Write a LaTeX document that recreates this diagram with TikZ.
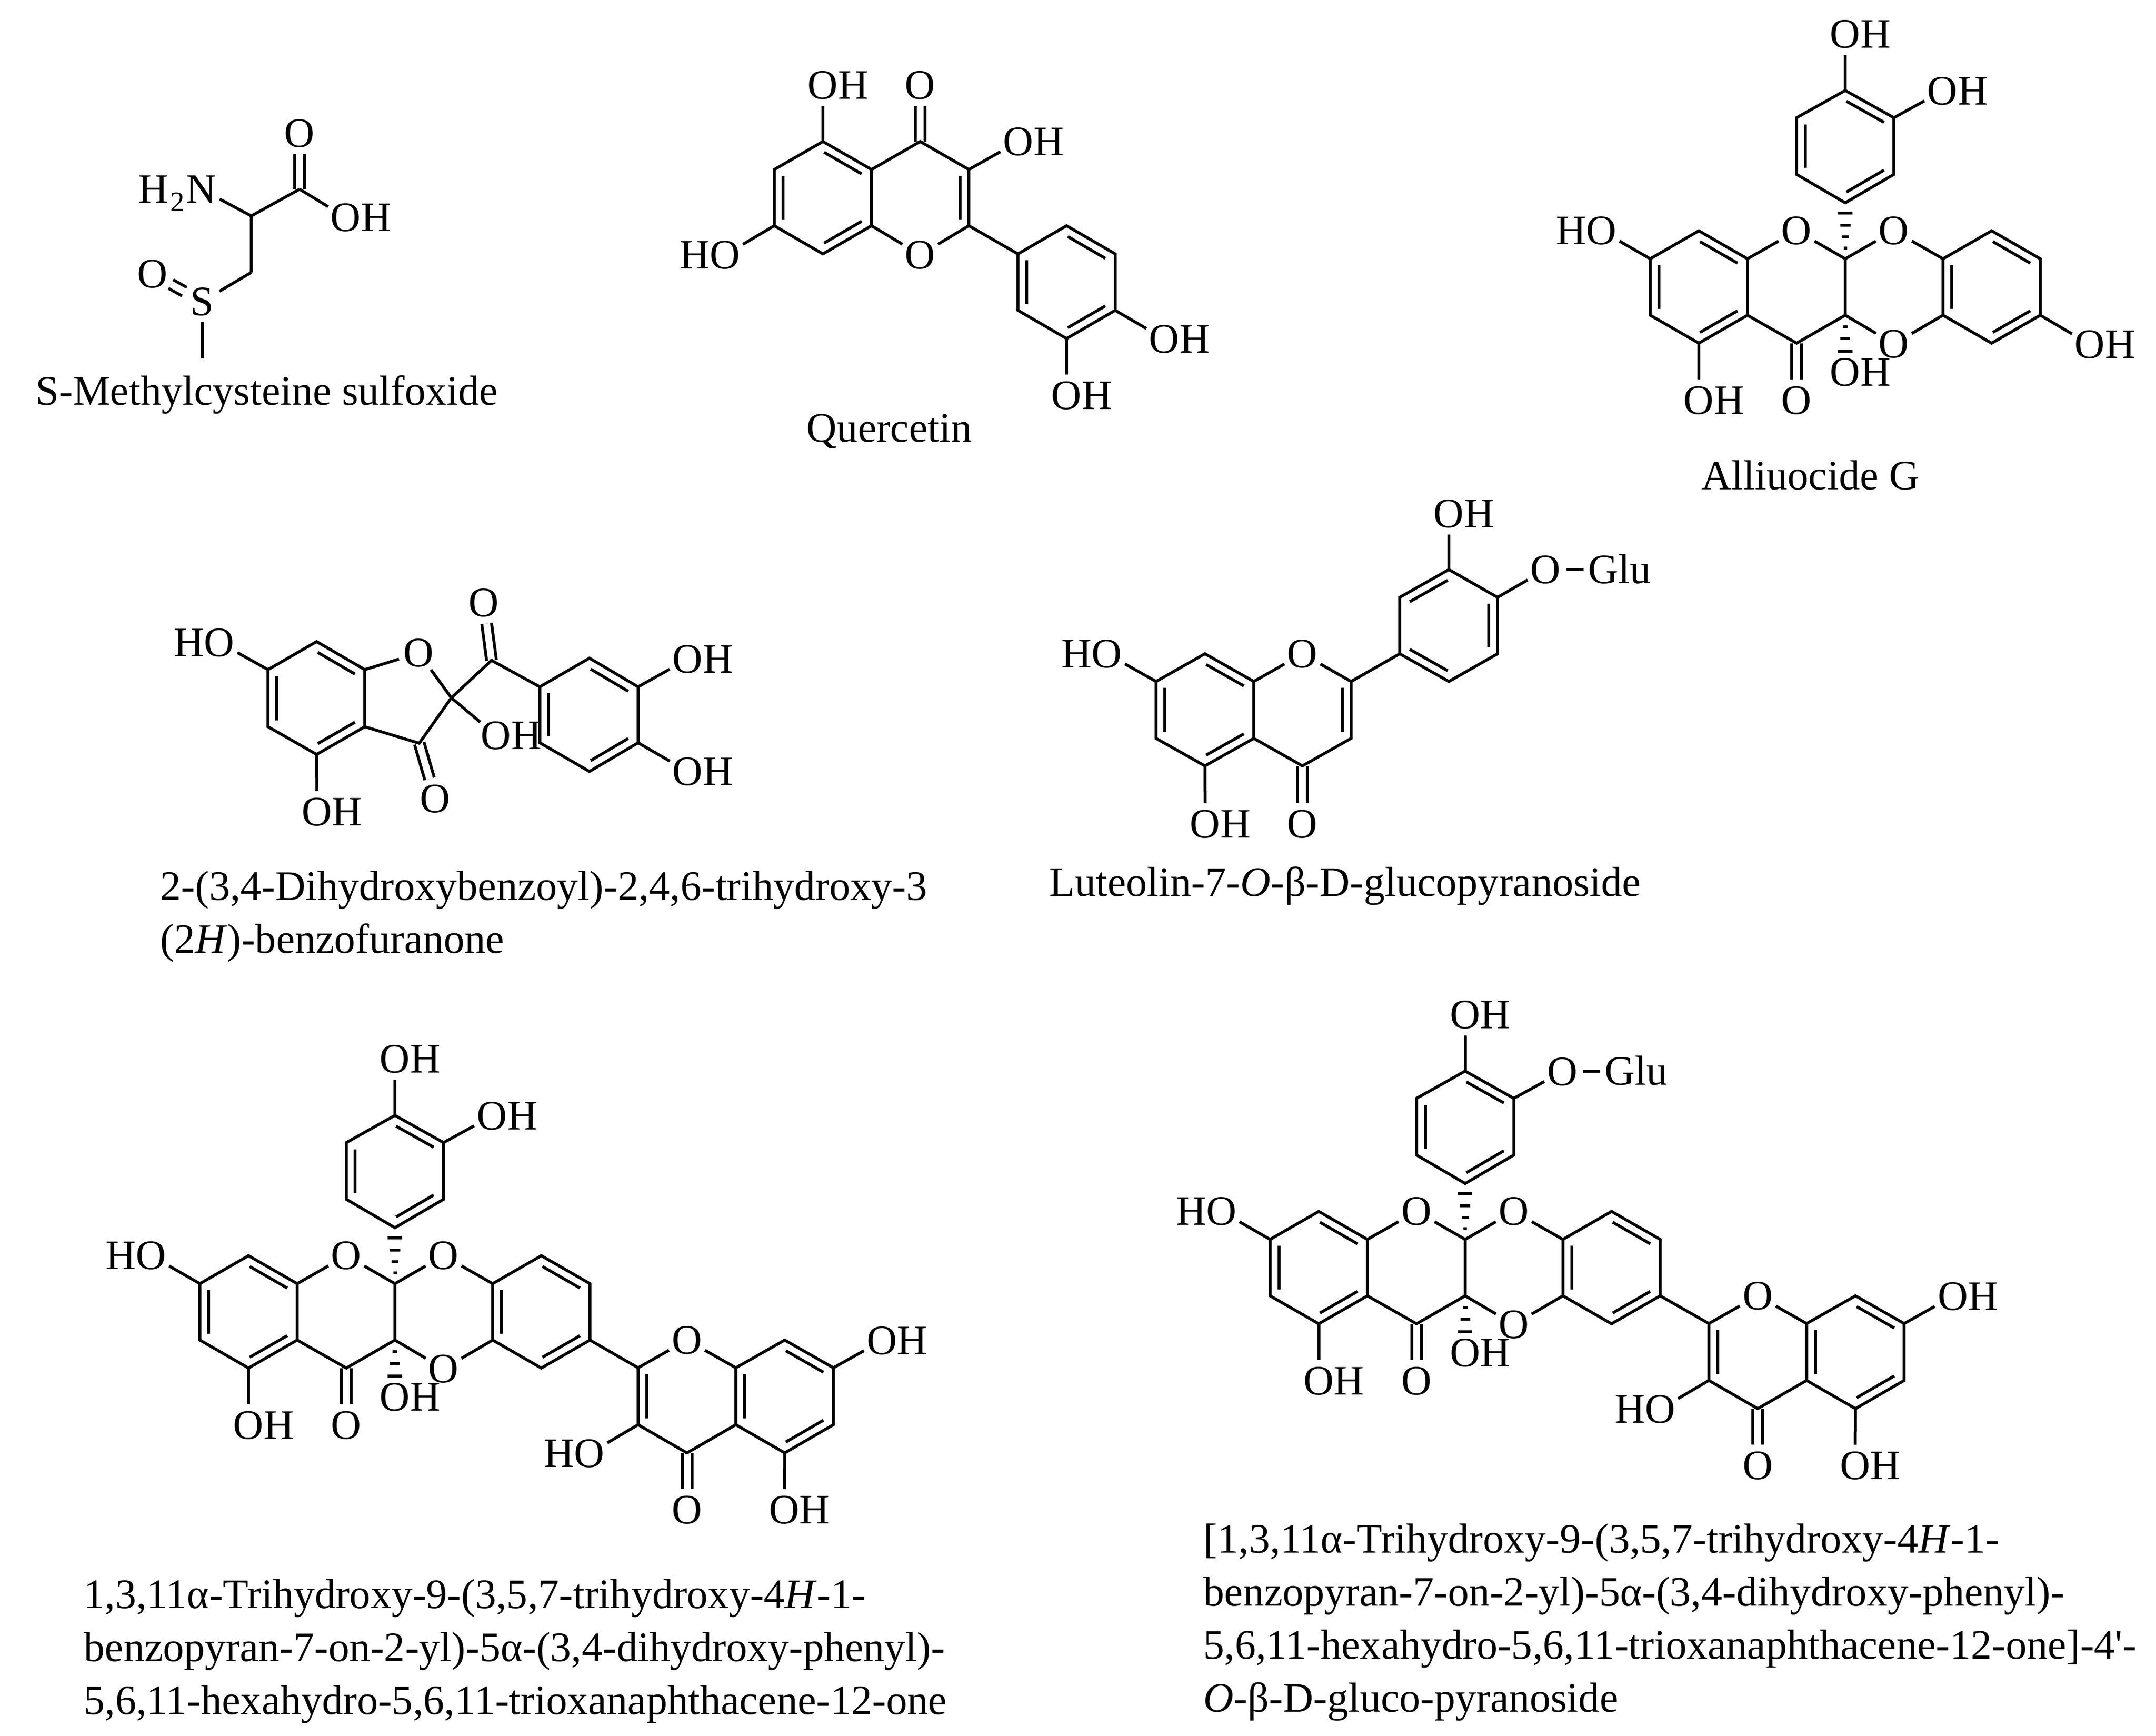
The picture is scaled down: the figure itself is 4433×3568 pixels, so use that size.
\documentclass[tikz,border=0pt]{standalone}
\usepackage{fontspec}
\setmainfont{Liberation Serif}
\newfontfamily\straightq{Liberation Serif}
\usetikzlibrary{calc}
\tikzset{
	bond/.style={line width=.06cm, line join=miter},
	dblbond/.style={line width=.06cm, double, double distance=.14cm},
	atom/.style={circle, inner sep=0pt, minimum size=.82cm, text height=.56cm, text depth=0pt, font=\fontsize{24.5}{30}\selectfont},
	sugar/.style={anchor=west, inner sep=.09cm, text height=.56cm, text depth=0pt, font=\fontsize{24.5}{30}\selectfont},
	caption/.style={anchor=base west, inner sep=0pt, align=left, font=\fontsize{24.5}{31}\selectfont},
}
% bond drawn inside a ring: end points, then the centre of that ring
\newcommand{\inbond}[3]{\draw[bond] ($(#1)!.03!(#2)!.18!(#3)$) -- ($(#2)!.03!(#1)!.18!(#3)$);}
% hashed stereo bond: from, to, list of position/width
\newcommand{\hashbond}[3]{\foreach \t/\w in {#3} \draw[bond] ($(#1)!\t!(#2)$) +(-\w/2,0) -- +(\w/2,0);}
\newcommand{\OH}{O\rlap{H}}
\newcommand{\HO}{\llap{H}O}
% the four fused rings with the phenyl on top; #1 prefix, #2 text at the phenyl's meta oxygen
\newcommand{\fusedcore}[2]{
	\coordinate (#1a1) at (0,0);
	\coordinate (#1a2) at (100,-57.5);
	\coordinate (#1a3) at (200,0);
	\coordinate (#1a4) at (200,116);
	\coordinate (#1a5) at (100,173.5);
	\coordinate (#1a6) at (0,116);
	\coordinate (#1c1) at (401,0);
	\coordinate (#1c2) at (401,116);
	\coordinate (#1c3) at (301,173.5);
	\coordinate (#1d1) at (602,0);
	\coordinate (#1d2) at (602,116);
	\coordinate (#1d3) at (702,173.5);
	\coordinate (#1d4) at (802,116);
	\coordinate (#1d5) at (802,0);
	\coordinate (#1d6) at (702,-57.5);
	\coordinate (#1p1) at (401,-115);
	\coordinate (#1p2) at (501,-173.5);
	\coordinate (#1p3) at (501,-290);
	\coordinate (#1p4) at (401,-346);
	\coordinate (#1p5) at (301,-290);
	\coordinate (#1p6) at (301,-173.5);
	\coordinate (#1ca) at (100,58);
	\coordinate (#1cd) at (702,58);
	\coordinate (#1cp) at (401,-230);
	\node[atom] (#1o1) at (301,-57.5) {O};
	\node[atom] (#1o2) at (501,-57.5) {O};
	\node[atom] (#1o3) at (501,175) {O};
	\node[atom] (#1o4) at (301,291) {O};
	\node[atom] (#1oh1) at (-100,-57.5) {\HO};
	\node[atom] (#1oh2) at (100,291) {\OH};
	\node[atom] (#1oh3) at (401,233.5) {\OH};
	\node[atom] (#1oh4) at (401,-461.5) {\OH};
	\node[atom] (#1oh5) at (601,-345) {#2};
	\draw[dblbond] (#1c3)--(#1o4);
	\draw[bond] (#1a1)--(#1a2)--(#1a3)--(#1a4)--(#1a5)--(#1a6)--cycle;
	\draw[bond] (#1a4)--(#1c3)--(#1c2)--(#1c1);
	\draw[bond] (#1d1)--(#1d2)--(#1d3)--(#1d4)--(#1d5)--(#1d6)--cycle;
	\draw[bond] (#1p1)--(#1p2)--(#1p3)--(#1p4)--(#1p5)--(#1p6)--cycle;
	\draw[bond] (#1a3)--(#1o1);
	\draw[bond] (#1o1)--(#1c1);
	\draw[bond] (#1c1)--(#1o2);
	\draw[bond] (#1o2)--(#1d1);
	\draw[bond] (#1c2)--(#1o3);
	\draw[bond] (#1o3)--(#1d2);
	\draw[bond] (#1a1)--(#1oh1);
	\draw[bond] (#1a5)--(#1oh2);
	\draw[bond] (#1p4)--(#1oh4);
	\draw[bond] (#1p3)--(#1oh5);
	\inbond{#1a2}{#1a3}{#1ca}
	\inbond{#1a1}{#1a6}{#1ca}
	\inbond{#1a5}{#1a4}{#1ca}
	\inbond{#1d1}{#1d2}{#1cd}
	\inbond{#1d6}{#1d5}{#1cd}
	\inbond{#1d3}{#1d4}{#1cd}
	\inbond{#1p4}{#1p3}{#1cp}
	\inbond{#1p5}{#1p6}{#1cp}
	\inbond{#1p1}{#1p2}{#1cp}
	\hashbond{#1c1}{#1p1}{.19/7,.39/14,.6/21,.82/29.5}
	\hashbond{#1c2}{#1oh3}{.2/10,.41/20,.63/29.5}
}
% flavone part hanging on the core, origin at its C2
\newcommand{\flavtail}[1]{
	\coordinate (#1c2) at (0,0);
	\coordinate (#1c3) at (0,117);
	\coordinate (#1c4) at (100.5,175);
	\coordinate (#1c4a) at (201,117);
	\coordinate (#1c8a) at (201,0);
	\coordinate (#1c8) at (301.5,-57);
	\coordinate (#1c7) at (401.5,0);
	\coordinate (#1c6) at (401.5,117);
	\coordinate (#1c5) at (301.5,175);
	\coordinate (#1cc) at (100.5,58);
	\coordinate (#1ca) at (301.5,58);
	\node[atom] (#1o) at (100.5,-57) {O};
	\node[atom] (#1o4) at (100.5,292) {O};
	\node[atom] (#1oh7) at (501.5,-56) {\OH};
	\node[atom] (#1oh3) at (-100,176) {\HO};
	\node[atom] (#1oh5) at (300.5,292) {\OH};
	\draw[dblbond] (#1c4)--(#1o4);
	\draw[bond] (#1c2)--(#1c3)--(#1c4)--(#1c4a)--(#1c8a);
	\draw[bond] (#1c4a)--(#1c8a)--(#1c8)--(#1c7)--(#1c6)--(#1c5)--cycle;
	\draw[bond] (#1c2)--(#1o);
	\draw[bond] (#1o)--(#1c8a);
	\draw[bond] (#1c7)--(#1oh7);
	\draw[bond] (#1c3)--(#1oh3);
	\draw[bond] (#1c5)--(#1oh5);
	\inbond{#1c2}{#1c3}{#1cc}
	\inbond{#1c8a}{#1c4a}{#1ca}
	\inbond{#1c8}{#1c7}{#1ca}
	\inbond{#1c5}{#1c6}{#1ca}
}
\begin{document}
\begin{tikzpicture}[x=.01cm, y=-.01cm]
	\useasboundingbox (0,0) rectangle (4433,3568);
	% S-methylcysteine sulfoxide
	\coordinate (s1) at (516.6,444);
	\coordinate (s2) at (616,389);
	\coordinate (s3) at (516.6,560);
	\coordinate (s4) at (415.5,737);
	\node[atom] (so1) at (616,274) {O};
	\node[atom] (soh) at (711,447) {\OH};
	\node[atom] (sn) at (414,389) {\llap{H\kern.04em\lower.2em\hbox{\fontsize{16.5}{17}\selectfont 2}\kern.04em}N};
	\node[atom] (ss) at (415.5,620) {S};
	\node[atom] (so2) at (314,563) {O};
	\draw[dblbond] (s2)--(so1);
	\draw[bond] (s3)--(s1)--(s2);
	\draw[bond] (s2)--(soh);
	\draw[bond] (s1)--(sn);
	\draw[bond] (s3)--(ss);
	\draw[bond] (ss)--(s4);
	\draw[dblbond] (ss)--(so2);
	\node[caption] (scap) at (73,832) {S-Methylcysteine sulfoxide};
	% quercetin
	\coordinate (q5) at (1692,291);
	\coordinate (q4a) at (1792,348.5);
	\coordinate (q4) at (1892,291);
	\coordinate (q3) at (1992,348.5);
	\coordinate (q2) at (1992,464);
	\coordinate (q8a) at (1792,464);
	\coordinate (q8) at (1692,522);
	\coordinate (q7) at (1592,464);
	\coordinate (q6) at (1592,348.5);
	\coordinate (qb1) at (2093,522);
	\coordinate (qb2) at (2093,638);
	\coordinate (qb3) at (2193,696);
	\coordinate (qb4) at (2293,638);
	\coordinate (qb5) at (2293,522);
	\coordinate (qb6) at (2193,464);
	\coordinate (qca) at (1692,406);
	\coordinate (qcc) at (1892,406);
	\coordinate (qcb) at (2193,580);
	\node[atom] (qo) at (1892,524) {O};
	\node[atom] (qo4) at (1892,175) {O};
	\node[atom] (qoh5) at (1692,175) {\OH};
	\node[atom] (qoh3) at (2094,291) {\OH};
	\node[atom] (qoh7) at (1491,524) {\HO};
	\node[atom] (qoh4) at (2394,697) {\OH};
	\node[atom] (qoh3b) at (2193,813) {\OH};
	\draw[dblbond] (q4)--(qo4);
	\draw[bond] (q5)--(q4a)--(q8a)--(q8)--(q7)--(q6)--cycle;
	\draw[bond] (q4a)--(q4)--(q3)--(q2);
	\draw[bond] (qb1)--(qb2)--(qb3)--(qb4)--(qb5)--(qb6)--cycle;
	\draw[bond] (q2)--(qb1);
	\draw[bond] (q8a)--(qo);
	\draw[bond] (qo)--(q2);
	\draw[bond] (q5)--(qoh5);
	\draw[bond] (q3)--(qoh3);
	\draw[bond] (q7)--(qoh7);
	\draw[bond] (qb4)--(qoh4);
	\draw[bond] (qb3)--(qoh3b);
	\inbond{q5}{q4a}{qca}
	\inbond{q6}{q7}{qca}
	\inbond{q8}{q8a}{qca}
	\inbond{q3}{q2}{qcc}
	\inbond{qb1}{qb2}{qcb}
	\inbond{qb3}{qb4}{qcb}
	\inbond{qb6}{qb5}{qcb}
	\node[caption] (qcap) at (1658,908) {Quercetin};
	% alliuocide G
	\begin{scope}[shift={(3393,532)}]
		\fusedcore{g}{\OH}
	\end{scope}
	\node[atom] (goh) at (4297,708) {\OH};
	\draw[bond] (gd4)--(goh);
	\node[caption] (gcap) at (3498,1006) {Alliuocide G};
	% benzofuranone
	\coordinate (b1) at (551,1376.6);
	\coordinate (b2) at (651,1319);
	\coordinate (b3) at (750,1376.6);
	\coordinate (b4) at (750,1494);
	\coordinate (b5) at (651,1551);
	\coordinate (b6) at (551,1494);
	\coordinate (b7) at (928,1434.5);
	\coordinate (b8) at (862,1528);
	\coordinate (b9) at (1010.6,1357.6);
	\coordinate (d1) at (1110,1412);
	\coordinate (d2) at (1212,1353);
	\coordinate (d3) at (1312,1412);
	\coordinate (d4) at (1312,1527);
	\coordinate (d5) at (1212,1586);
	\coordinate (d6) at (1110,1527);
	\coordinate (bca) at (651,1435);
	\coordinate (bcd) at (1212,1470);
	\node[atom] (bo) at (861,1342.5) {O};
	\node[atom] (bo1) at (895,1642) {O};
	\node[atom] (bo2) at (995,1239.4) {O};
	\node[atom] (boh1) at (451,1321) {\HO};
	\node[atom] (boh2) at (651.6,1669) {\OH};
	\node[atom] (boh3) at (1020,1512) {\OH};
	\node[atom] (boh4) at (1414,1355) {\OH};
	\node[atom] (boh5) at (1414,1586) {\OH};
	\draw[dblbond] (b8)--(bo1);
	\draw[dblbond] (b9)--(bo2);
	\draw[bond] (b1)--(b2)--(b3)--(b4)--(b5)--(b6)--cycle;
	\draw[bond] (d1)--(d2)--(d3)--(d4)--(d5)--(d6)--cycle;
	\draw[bond] (b4)--(b8)--(b7)--(b9)--(d1);
	\draw[bond] (b3)--(bo);
	\draw[bond] (bo)--(b7);
	\draw[bond] (b1)--(boh1);
	\draw[bond] (b5)--(boh2);
	\draw[bond] (b7)--(boh3);
	\draw[bond] (d3)--(boh4);
	\draw[bond] (d4)--(boh5);
	\inbond{b2}{b3}{bca}
	\inbond{b1}{b6}{bca}
	\inbond{b5}{b4}{bca}
	\inbond{d2}{d3}{bcd}
	\inbond{d1}{d6}{bcd}
	\inbond{d5}{d4}{bcd}
	\node[caption, anchor=north west] (bcap) at (329,1790) {2-(3,4-Dihydroxybenzoyl)-2,4,6-trihydroxy-3\\(2\textit{H})-benzofuranone};
	% luteolin glucoside
	\coordinate (l1) at (2377,1401);
	\coordinate (l2) at (2477.5,1344);
	\coordinate (l3) at (2578,1401);
	\coordinate (l4) at (2578,1518);
	\coordinate (l5) at (2477.5,1574.5);
	\coordinate (l6) at (2377,1518);
	\coordinate (l7) at (2778,1401);
	\coordinate (l8) at (2778,1518);
	\coordinate (l9) at (2678,1574.5);
	\coordinate (m1) at (2878,1344);
	\coordinate (m2) at (2878,1228);
	\coordinate (m3) at (2979,1171);
	\coordinate (m4) at (3079,1228);
	\coordinate (m5) at (3079,1344);
	\coordinate (m6) at (2979,1401);
	\coordinate (lca) at (2477.5,1459);
	\coordinate (lcc) at (2678,1459);
	\coordinate (lcm) at (2979,1286);
	\node[atom] (lo) at (2678,1344) {O};
	\node[atom] (lo4) at (2678,1694) {O};
	\node[atom] (loh5) at (2478,1694) {\OH};
	\node[atom] (loh7) at (2276,1344) {\HO};
	\node[atom] (loh3) at (2979,1056) {\OH};
	\node[atom] (log) at (3178,1171) {O};
	\node[sugar] (lglu) at (3256,1171) {Glu};
	\draw[dblbond] (l9)--(lo4);
	\draw[bond] (l1)--(l2)--(l3)--(l4)--(l5)--(l6)--cycle;
	\draw[bond] (l4)--(l9)--(l8)--(l7);
	\draw[bond] (m1)--(m2)--(m3)--(m4)--(m5)--(m6)--cycle;
	\draw[bond] (l7)--(m1);
	\draw[bond] (l3)--(lo);
	\draw[bond] (lo)--(l7);
	\draw[bond] (l1)--(loh7);
	\draw[bond] (l5)--(loh5);
	\draw[bond] (m3)--(loh3);
	\draw[bond] (m4)--(log);
	\draw[bond] (log)--(lglu);
	\inbond{l2}{l3}{lca}
	\inbond{l1}{l6}{lca}
	\inbond{l5}{l4}{lca}
	\inbond{l7}{l8}{lcc}
	\inbond{m2}{m3}{lcm}
	\inbond{m4}{m5}{lcm}
	\inbond{m1}{m6}{lcm}
	\node[caption] (lcap) at (2157,1842) {Luteolin-7-\textit{O}-β-D-glucopyranoside};
	% trioxanaphthacene, free
	\begin{scope}[shift={(411,2639)}]
		\fusedcore{t}{\OH}
	\end{scope}
	\begin{scope}[shift={(1312,2812)}]
		\flavtail{u}
	\end{scope}
	\draw[bond] (td4)--(uc2);
	\node[caption, anchor=north west] (tcap) at (172,3246) {1,3,11α-Trihydroxy-9-(3,5,7-trihydroxy-4\textit{H}-1-\\benzopyran-7-on-2-yl)-5α-(3,4-dihydroxy-phenyl)-\\5,6,11-hexahydro-5,6,11-trioxanaphthacene-12-one};
	% trioxanaphthacene, glucoside
	\begin{scope}[shift={(2611.5,2548)}]
		\fusedcore{v}{O}
	\end{scope}
	\begin{scope}[shift={(3513.6,2721)}]
		\flavtail{w}
	\end{scope}
	\node[sugar] (vglu) at (3290,2202) {Glu};
	\draw[bond] (voh5)--(vglu);
	\draw[bond] (vd4)--(wc2);
	\node[caption, anchor=north west] (vcap) at (2474,3132) {[1,3,11α-Trihydroxy-9-(3,5,7-trihydroxy-4\textit{H}-1-\\benzopyran-7-on-2-yl)-5α-(3,4-dihydroxy-phenyl)-\\5,6,11-hexahydro-5,6,11-trioxanaphthacene-12-one]-4{\straightq'}-\\\textit{O}-β-D-gluco-pyranoside};
\end{tikzpicture}
\end{document}
